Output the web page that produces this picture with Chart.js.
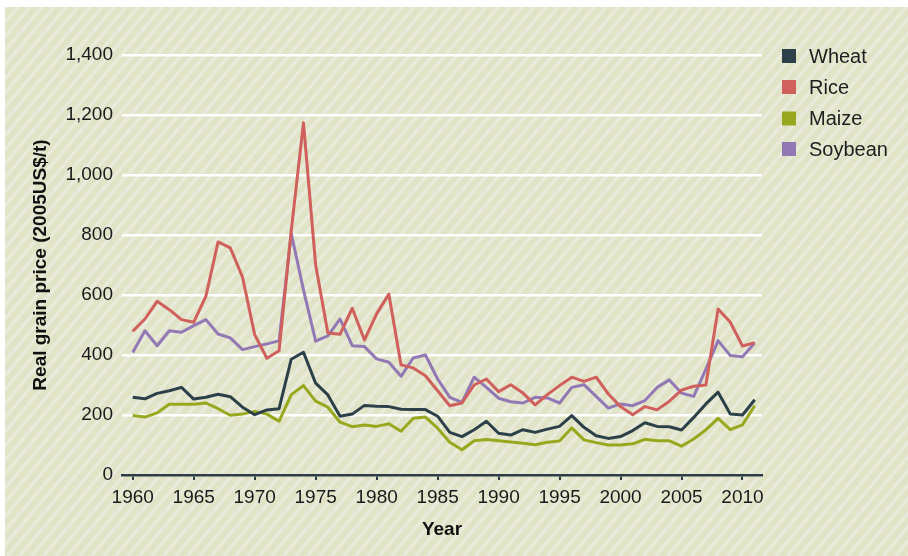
<!DOCTYPE html>
<html>
<head>
<meta charset="utf-8">
<script src="https://cdn.jsdelivr.net/npm/chart.js@4.4.1/dist/chart.umd.min.js"></script>
<style>
  html, body { margin: 0; padding: 0; background: #fff; }
  #wrap { width: 908px; height: 556px; position: relative; }
</style>
</head>
<body>
<div id="wrap"><canvas id="mycanvas" width="908" height="556"></canvas></div>
<script>
// real grain price, 2005 US$ per tonne
var years = [];
for (var y = 1960; y <= 2011; y++) years.push(y);

var wheat = [259, 254, 272, 281, 292, 253, 259, 269, 261, 226,
             201, 217, 221, 386, 409, 306, 267, 196, 203, 232,
             229, 228, 219, 218, 218, 196, 142, 128, 151, 179,
             139, 133, 151, 142, 153, 162, 198, 159, 131, 122,
             128, 148, 174, 162, 161, 150, 192, 237, 276, 203,
             200, 251];
var rice = [479, 520, 579, 551, 518, 509, 596, 777, 757, 660,
            468, 389, 414, 815, 1174, 700, 473, 469, 556, 450,
            537, 603, 367, 357, 331, 281, 231, 240, 300, 320,
            278, 301, 273, 234, 268, 298, 326, 312, 326, 270,
            228, 201, 228, 217, 246, 283, 296, 300, 553, 509,
            430, 441];
var maize = [198, 193, 207, 236, 236, 236, 240, 221, 199, 203,
             212, 203, 179, 268, 298, 246, 226, 176, 161, 167,
             162, 171, 146, 189, 193, 156, 109, 84, 114, 118,
             114, 110, 106, 101, 109, 113, 157, 117, 108, 100,
             100, 104, 119, 114, 114, 96, 120, 151, 189, 151,
             167, 231];
var soybean = [408, 481, 431, 481, 476, 498, 518, 470, 457, 418,
               428, 437, 447, 805, 617, 446, 464, 520, 431, 428,
               387, 376, 329, 390, 400, 320, 259, 242, 326, 292,
               256, 244, 240, 259, 257, 240, 292, 301, 262, 223,
               237, 231, 248, 292, 317, 273, 262, 353, 448, 398,
               394, 440];

var seriesNames = ['Wheat', 'Rice', 'Maize', 'Soybean'];
var seriesColors = ['#2c4049', '#d0605c', '#98a81e', '#9278b4'];
var xTicks = [1960, 1965, 1970, 1975, 1980, 1985, 1990, 1995, 2000, 2005, 2010];

function pts(vals) {
  return years.map(function(yr, i) { return { x: yr, y: vals[i] }; });
}

var allSeries = [wheat, rice, maize, soybean];
var datasets = [];
for (var i in allSeries) {
  datasets.push({
    label: seriesNames[i],
    data: pts(allSeries[i]),
    borderColor: seriesColors[i],
    backgroundColor: seriesColors[i],
    borderWidth: 3,
    pointRadius: 0,
    tension: 0,
    borderJoinStyle: 'round',
    fill: false
  });
}

// striped panel behind everything
var panelBg = {
  id: 'panelBg',
  beforeDraw: function(chart) {
    var c = chart.ctx;
    c.save();
    c.fillStyle = '#ffffff';
    c.fillRect(0, 0, 908, 556);
    c.beginPath();
    c.rect(5, 7, 903, 549);
    c.clip();
    c.fillStyle = '#e0e3c6';
    c.fillRect(5, 7, 903, 549);
    c.strokeStyle = '#e8eada';
    c.lineWidth = 3.5;
    var dx = 556 * 0.85;
    for (var x0 = -dx; x0 < 908 + 20; x0 += 12) {
      c.beginPath();
      c.moveTo(x0, 556);
      c.lineTo(x0 + dx, 0);
      c.stroke();
    }
    c.restore();
  }
};

// legend on the right, squares + names
var sideLegend = {
  id: 'sideLegend',
  afterDraw: function(chart) {
    var c = chart.ctx;
    c.save();
    c.font = '20px "Liberation Sans", Arial, sans-serif';
    c.textBaseline = 'middle';
    c.textAlign = 'left';
    var rows = [56, 87, 118.5, 149];
    for (var i = 0; i < seriesNames.length; i++) {
      c.fillStyle = seriesColors[i];
      c.fillRect(782, rows[i] - 7, 14, 14);
      c.fillStyle = '#1e1e1e';
      c.fillText(seriesNames[i], 809, rows[i] + 1);
    }
    c.restore();
  }
};

var ctx = document.getElementById('mycanvas');
var chart = new Chart(ctx, {
  type: 'line',
  data: { datasets: datasets },
  plugins: [panelBg, sideLegend],
  options: {
    responsive: false,
    animation: false,
    layout: { padding: { left: 25, right: 146, top: 55, bottom: 11 } },
    plugins: { legend: { display: false }, tooltip: { enabled: false } },
    scales: {
      x: {
        type: 'linear',
        min: 1959.12,
        max: 2011.6,
        afterBuildTicks: function(scale) {
          scale.ticks = xTicks.map(function(v) { return { value: v }; });
        },
        afterFit: function(scale) { scale.height = 70; },
        grid: {
          drawOnChartArea: false,
          drawTicks: true,
          tickLength: 5,
          color: '#2d3f45',
          lineWidth: 2
        },
        border: { display: true, color: '#2d3f45', width: 2.5 },
        ticks: {
          padding: 6,
          color: '#1a1a1a',
          font: { family: '"Liberation Sans", Arial, sans-serif', size: 19 },
          maxRotation: 0,
          callback: function(v) { return String(v); }
        },
        title: {
          display: true,
          text: 'Year',
          color: '#111',
          font: { family: '"Liberation Sans", Arial, sans-serif', size: 19, weight: 'bold' }
        }
      },
      y: {
        min: 0,
        max: 1400,
        afterFit: function(scale) { scale.width = 97; },
        ticks: {
          stepSize: 200,
          padding: 9,
          color: '#1a1a1a',
          font: { family: '"Liberation Sans", Arial, sans-serif', size: 19 },
          callback: function(v) { return v.toLocaleString('en-US'); }
        },
        grid: {
          drawTicks: false,
          color: function(c) { return c.tick.value === 0 ? 'rgba(0,0,0,0)' : '#ffffff'; },
          lineWidth: 2.5
        },
        border: { display: false },
        title: {
          display: true,
          text: 'Real grain price (2005US$/t)',
          color: '#111',
          font: { family: '"Liberation Sans", Arial, sans-serif', size: 19, weight: 'bold' }
        }
      }
    }
  }
});
</script>
</body>
</html>
